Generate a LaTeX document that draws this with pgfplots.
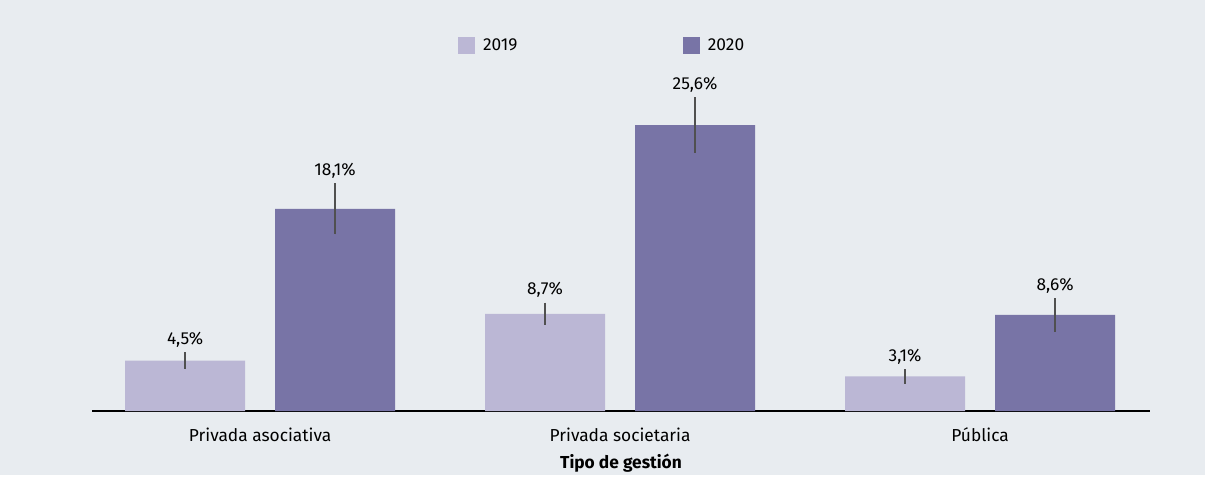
\documentclass[border=0pt]{standalone}
\usepackage{pgfplots}
\pgfplotsset{compat=1.18}
\usepackage{pgfplotstable}
\usepackage{fontspec}
\setmainfont{Fira Sans}
\usetikzlibrary{backgrounds}

\definecolor{bgc}{RGB}{232,236,240}
\definecolor{c2019}{RGB}{187,183,213}
\definecolor{c2020}{RGB}{120,116,166}
\definecolor{errc}{RGB}{80,80,80}

% tipo de gestion: 0 asociativa, 1 societaria, 2 publica
\pgfplotstableread{
x y e
0 4.5 0.75
1 8.7 1.0
2 3.1 0.65
}\datadiecinueve
\pgfplotstableread{
x y e
0 18.1 2.3
1 25.6 2.5
2 8.6 1.5
}\dataveinte

\begin{document}
\begin{tikzpicture}
\begin{axis}[
    scale only axis,
    width=793.5pt, height=278.25pt,
    xmin=-0.467, xmax=2.472,
    ymin=0, ymax=33.21,
    axis x line=bottom, axis y line=none,
    axis line style={-, black, line width=0.9pt},
    xtick={0,1,2},
    xticklabels={Privada asociativa, Privada societaria, Pública},
    major tick length=0pt,
    x tick label style={font=\fontsize{13}{15}\selectfont, yshift=-9pt},
    xlabel={Tipo de gestión},
    xlabel style={font=\fontsize{13}{15}\selectfont\bfseries, at={(axis description cs:0.5,0)}, anchor=center, yshift=-39.5pt},
    ybar, bar width=90pt,
    /pgf/number format/assume math mode=true,
    point meta=y,
    nodes near coords={\pgfmathprintnumber[use comma,fixed,fixed zerofill,precision=1]{\pgfplotspointmeta}\%},
    visualization depends on={\thisrow{e} \as \err},
    every node near coord/.append style={anchor=center, black, font=\fontsize{13}{15}\selectfont, yshift={\err*8.378pt+9.5pt}},
    legend columns=2,
    legend style={at={(axis description cs:0.4825,0.984)}, anchor=center, draw=none, fill=none,
        font=\fontsize{13}{15}\selectfont,
        /tikz/every odd column/.append style={column sep=4pt},
        /tikz/every even column/.append style={column sep=122pt}},
    legend image code/.code={\fill[#1] (0pt,-6.4pt) rectangle (12.75pt,6.4pt);},
    clip=false,
]
\addplot[fill=c2019, draw=none, bar shift=-56.25pt,
    error bars/.cd, y dir=both, y explicit, error mark=none,
    error bar style={line width=1.6pt, errc}]
    table[x=x, y=y, y error=e] {\datadiecinueve};
\addlegendentry{2019}
\addplot[fill=c2020, draw=none, bar shift=56.25pt,
    error bars/.cd, y dir=both, y explicit, error mark=none,
    error bar style={line width=1.6pt, errc}]
    table[x=x, y=y, y error=e] {\dataveinte};
\addlegendentry{2020}
\end{axis}
\begin{scope}[on background layer]
\fill[bgc] ([xshift=-69pt, yshift=-48pt]current axis.south west)
    rectangle ([xshift=41.25pt, yshift=30pt]current axis.north east);
\end{scope}
\end{tikzpicture}
\end{document}
